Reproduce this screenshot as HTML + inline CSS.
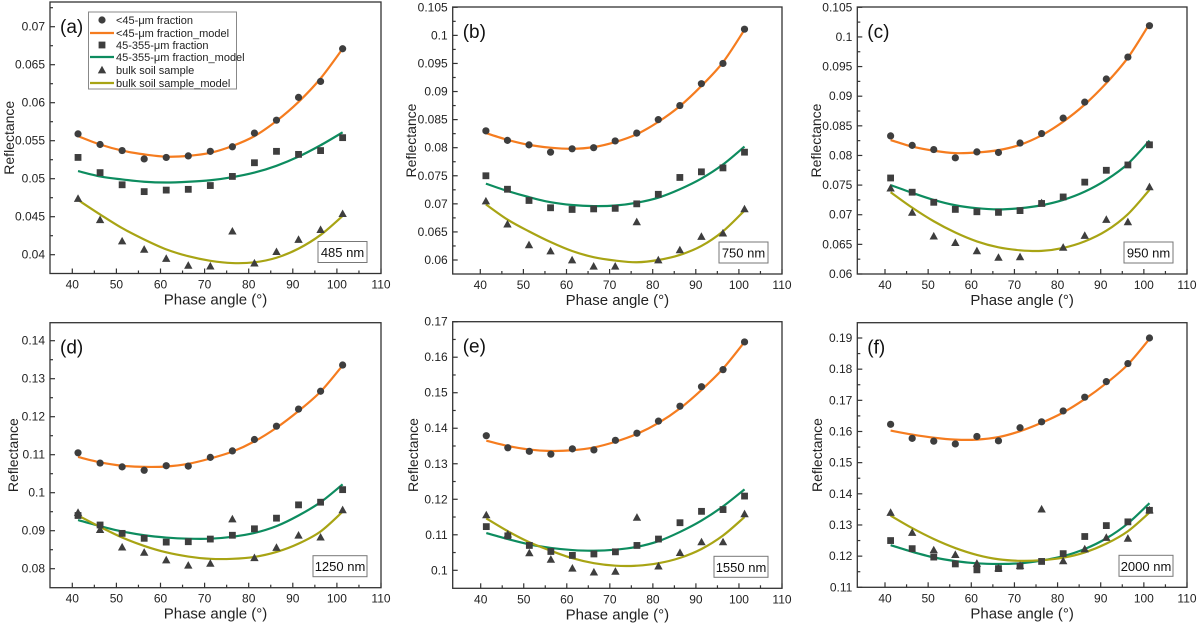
<!DOCTYPE html>
<html><head><meta charset="utf-8">
<style>
html,body{margin:0;padding:0;background:#fff;}
svg{display:block;font-family:"Liberation Sans",Arial,sans-serif;}
</style></head>
<body>
<svg id="chart" width="1200" height="628" viewBox="0 0 1200 628"></svg>
<script>
const phaseAngles = [41.3,46.3,51.3,56.3,61.3,66.3,71.3,76.3,81.3,86.3,91.3,96.3,101.3];
const xTicks = [40,50,60,70,80,90,100,110];
const seriesNames = ["<45-\u03bcm fraction","<45-\u03bcm fraction_model","45-355-\u03bcm fraction","45-355-\u03bcm fraction_model","bulk soil sample","bulk soil sample_model"];

const aFine = [0.0559,0.0545,0.0537,0.0526,0.0528,0.0530,0.0536,0.0542,0.0560,0.0577,0.0607,0.0628,0.0671];
const aFineModel = [0.0556,0.0545,0.0537,0.0532,0.0529,0.0530,0.0534,0.0543,0.0556,0.0576,0.0601,0.0632,0.0671];
const aMid = [0.0528,0.0508,0.0492,0.0483,0.0485,0.0486,0.0491,0.0503,0.0521,0.0536,0.0532,0.0537,0.0554];
const aMidModel = [0.0510,0.0503,0.0499,0.0496,0.0495,0.0496,0.0498,0.0502,0.0508,0.0517,0.0529,0.0544,0.0561];
const aBulk = [0.0474,0.0446,0.0418,0.0407,0.0395,0.0386,0.0385,0.0431,0.0389,0.0404,0.0420,0.0433,0.0454];
const aBulkModel = [0.0472,0.0453,0.0435,0.0420,0.0407,0.0398,0.0392,0.0389,0.0390,0.0396,0.0408,0.0426,0.0451];

const bFine = [0.0830,0.0813,0.0805,0.0792,0.0798,0.0800,0.0812,0.0826,0.0850,0.0875,0.0914,0.0950,0.1011];
const bFineModel = [0.0826,0.0814,0.0805,0.0800,0.0798,0.0801,0.0810,0.0824,0.0846,0.0874,0.0910,0.0952,0.1010];
const bMid = [0.0750,0.0726,0.0706,0.0693,0.0690,0.0691,0.0692,0.0700,0.0717,0.0747,0.0757,0.0764,0.0792];
const bMidModel = [0.0736,0.0723,0.0712,0.0703,0.0698,0.0696,0.0697,0.0702,0.0711,0.0726,0.0745,0.0770,0.0802];
const bBulk = [0.0705,0.0664,0.0627,0.0616,0.0600,0.0589,0.0589,0.0668,0.0600,0.0618,0.0642,0.0648,0.0691];
const bBulkModel = [0.0699,0.0672,0.0651,0.0632,0.0616,0.0605,0.0599,0.0596,0.0600,0.0609,0.0625,0.0651,0.0688];

const cFine = [0.0833,0.0817,0.0810,0.0796,0.0806,0.0805,0.0821,0.0837,0.0863,0.0890,0.0929,0.0966,0.1019];
const cFineModel = [0.0826,0.0815,0.0808,0.0804,0.0805,0.0809,0.0818,0.0834,0.0857,0.0886,0.0922,0.0965,0.1022];
const cMid = [0.0762,0.0738,0.0721,0.0709,0.0705,0.0704,0.0707,0.0719,0.0730,0.0755,0.0775,0.0784,0.0818];
const cMidModel = [0.0750,0.0737,0.0725,0.0716,0.0711,0.0709,0.0711,0.0716,0.0725,0.0739,0.0759,0.0786,0.0825];
const cBulk = [0.0745,0.0704,0.0664,0.0653,0.0639,0.0628,0.0629,0.0720,0.0645,0.0665,0.0692,0.0688,0.0747];
const cBulkModel = [0.0738,0.0712,0.0689,0.0670,0.0655,0.0645,0.0640,0.0639,0.0644,0.0655,0.0673,0.0701,0.0742];

const dFine = [0.1105,0.1078,0.1068,0.1059,0.1071,0.1070,0.1093,0.1110,0.1140,0.1175,0.1220,0.1267,0.1336];
const dFineModel = [0.1094,0.1080,0.1071,0.1068,0.1069,0.1076,0.1090,0.1108,0.1135,0.1171,0.1215,0.1266,0.1335];
const dMid = [0.0940,0.0915,0.0893,0.0880,0.0870,0.0871,0.0878,0.0888,0.0905,0.0933,0.0968,0.0975,0.1008];
const dMidModel = [0.0928,0.0912,0.0898,0.0888,0.0882,0.0879,0.0879,0.0884,0.0894,0.0912,0.0940,0.0975,0.1022];
const dBulk = [0.0948,0.0903,0.0857,0.0843,0.0823,0.0809,0.0814,0.0931,0.0829,0.0856,0.0888,0.0883,0.0955];
const dBulkModel = [0.0940,0.0910,0.0882,0.0860,0.0843,0.0832,0.0826,0.0826,0.0831,0.0844,0.0866,0.0898,0.0950];

const eFine = [0.1379,0.1345,0.1335,0.1327,0.1342,0.1339,0.1366,0.1386,0.1420,0.1462,0.1517,0.1565,0.1643];
const eFineModel = [0.1365,0.1350,0.1340,0.1336,0.1338,0.1346,0.1362,0.1384,0.1415,0.1456,0.1508,0.1568,0.1643];
const eMid = [0.1123,0.1097,0.1070,0.1053,0.1042,0.1046,0.1052,0.1070,0.1088,0.1134,0.1166,0.1171,0.1209];
const eMidModel = [0.1105,0.1088,0.1073,0.1063,0.1057,0.1055,0.1058,0.1066,0.1082,0.1108,0.1140,0.1180,0.1228];
const eBulk = [0.1156,0.1102,0.1049,0.1031,0.1006,0.0995,0.0997,0.1149,0.1012,0.1050,0.1080,0.1080,0.1159];
const eBulkModel = [0.1146,0.1110,0.1079,0.1055,0.1034,0.1020,0.1013,0.1013,0.1020,0.1035,0.1060,0.1098,0.1150];

const fFine = [0.1623,0.1578,0.1569,0.1560,0.1584,0.1570,0.1612,0.1631,0.1666,0.1710,0.1760,0.1818,0.1900];
const fFineModel = [0.1603,0.1590,0.1580,0.1574,0.1574,0.1582,0.1601,0.1628,0.1661,0.1704,0.1755,0.1815,0.1897];
const fMid = [0.1250,0.1224,0.1197,0.1175,0.1156,0.1160,0.1168,0.1183,0.1208,0.1263,0.1298,0.1310,0.1347];
const fMidModel = [0.1235,0.1214,0.1196,0.1184,0.1177,0.1175,0.1177,0.1186,0.1200,0.1223,0.1257,0.1305,0.1370];
const fBulk = [0.1340,0.1276,0.1220,0.1205,0.1177,0.1162,0.1170,0.1351,0.1185,0.1223,0.1260,0.1257,0.1348];
const fBulkModel = [0.1330,0.1290,0.1255,0.1226,0.1204,0.1190,0.1185,0.1187,0.1195,0.1212,0.1240,0.1280,0.1340];

const aTicks = [0.04,0.045,0.05,0.055,0.06,0.065,0.07];
const aTickLabels = ["0.04","0.045","0.05","0.055","0.06","0.065","0.07"];
const bTicks = [0.06,0.065,0.07,0.075,0.08,0.085,0.09,0.095,0.1,0.105];
const bTickLabels = ["0.06","0.065","0.07","0.075","0.08","0.085","0.09","0.095","0.1","0.105"];
const cTicks = bTicks;
const cTickLabels = bTickLabels;
const dTicks = [0.08,0.09,0.1,0.11,0.12,0.13,0.14];
const dTickLabels = ["0.08","0.09","0.1","0.11","0.12","0.13","0.14"];
const eTicks = [0.1,0.11,0.12,0.13,0.14,0.15,0.16,0.17];
const eTickLabels = ["0.1","0.11","0.12","0.13","0.14","0.15","0.16","0.17"];
const fTicks = [0.11,0.12,0.13,0.14,0.15,0.16,0.17,0.18,0.19];
const fTickLabels = ["0.11","0.12","0.13","0.14","0.15","0.16","0.17","0.18","0.19"];

const NS = "http://www.w3.org/2000/svg";
const svg = document.getElementById("chart");
function mk(tag, attrs, parent){
  const e = document.createElementNS(NS, tag);
  for (const k in attrs) e.setAttribute(k, attrs[k]);
  (parent||svg).appendChild(e);
  return e;
}
const ORANGE="#f57c1f", GREEN="#0d8c5f", OLIVE="#a8a414", GREY="#3e3e3e";

function smoothPath(pts){
  let d = "M"+pts[0][0].toFixed(2)+","+pts[0][1].toFixed(2);
  for (let i=0;i<pts.length-1;i++){
    const p0=pts[Math.max(0,i-1)], p1=pts[i], p2=pts[i+1], p3=pts[Math.min(pts.length-1,i+2)];
    const c1=[p1[0]+(p2[0]-p0[0])/6, p1[1]+(p2[1]-p0[1])/6];
    const c2=[p2[0]-(p3[0]-p1[0])/6, p2[1]-(p3[1]-p1[1])/6];
    d += " C"+c1[0].toFixed(2)+","+c1[1].toFixed(2)+" "+c2[0].toFixed(2)+","+c2[1].toFixed(2)+" "+p2[0].toFixed(2)+","+p2[1].toFixed(2);
  }
  return d;
}

function panel(cfg){
  const g = mk("g", {});
  
  
  const L=cfg.left, R=cfg.right, T=cfg.top, B=cfg.bottom;
  const xScale = v => cfg.x40 + (v-40)*(cfg.x110-cfg.x40)/70;
  const yScale = v => cfg.yA + (v-cfg.vA)*(cfg.yB-cfg.yA)/(cfg.vB-cfg.vA);
  xTicks.forEach((t,i)=>{
    const x = xScale(t);
    const tk = mk("line",{x1:x,x2:x,y1:B,y2:B-5,stroke:"#333","stroke-width":1.2},g);
    
    
    const lb = mk("text",{x:x,y:B+15,"text-anchor":"middle","font-size":12,fill:"#222"},g);
    lb.textContent = t;
    
    
    if (i<xTicks.length-1){
      const xm = xScale(t+5);
      const mt = mk("line",{x1:xm,x2:xm,y1:B,y2:B-3,stroke:"#333","stroke-width":1.2},g);
      
      
    }
  });
  const step = cfg.ticks[1]-cfg.ticks[0];
  cfg.ticks.forEach((t,i)=>{
    const y = yScale(t);
    const tk = mk("line",{x1:L,x2:L+5,y1:y,y2:y,stroke:"#333","stroke-width":1.2},g);
    
    
    const lb = mk("text",{x:L-5,y:y+4,"text-anchor":"end","font-size":12,fill:"#222"},g);
    lb.textContent = cfg.labels[i];
    
    
    [t-step/2, t+step/2].forEach(m=>{
      const ym = yScale(m);
      if (ym>T+1 && ym<B-1 && (i===0 || m>t)){
        const mt = mk("line",{x1:L,x2:L+3,y1:ym,y2:ym,stroke:"#333","stroke-width":1.2},g);
        
        
      }
    });
  });
  const xt = mk("text",{x:(L+R)/2,y:B+31,"text-anchor":"middle","font-size":15,fill:"#222"},g);
  xt.textContent = "Phase angle (\u00b0)";
  
  
  const yx = cfg.ytitleX, yy=(T+B)/2;
  const yt = mk("text",{x:yx,y:yy,"text-anchor":"middle","font-size":14,fill:"#222",transform:"rotate(-90 "+yx+" "+yy+")"},g);
  yt.textContent = "Reflectance";
  
  
  const lines = [[cfg.fineModel,ORANGE,"fine-fraction-model-line"],[cfg.midModel,GREEN,"coarse-fraction-model-line"],[cfg.bulkModel,OLIVE,"bulk-soil-model-line"]];
  lines.forEach(([arr,col,name])=>{
    const pts = arr.map((v,i)=>[xScale(phaseAngles[i]), yScale(v)]);
    const p = mk("path",{d:smoothPath(pts),fill:"none",stroke:col,"stroke-width":2.2},g);
    
    
  });
  cfg.fine.forEach((v,i)=>{
    const c = mk("circle",{cx:xScale(phaseAngles[i]),cy:yScale(v),r:3.6,fill:GREY},g);
    
    
  });
  cfg.mid.forEach((v,i)=>{
    const x=xScale(phaseAngles[i]), y=yScale(v);
    const s = mk("rect",{x:x-3.4,y:y-3.4,width:6.8,height:6.8,fill:GREY},g);
    
    
  });
  cfg.bulk.forEach((v,i)=>{
    const x=xScale(phaseAngles[i]), y=yScale(v);
    const tr = mk("polygon",{points:(x-4.2)+","+(y+3.4)+" "+(x+4.2)+","+(y+3.4)+" "+x+","+(y-4.2),fill:GREY},g);
    
    
  });
  const fr = mk("rect",{x:L,y:T,width:R-L,height:B-T,fill:"none",stroke:"#333","stroke-width":1.3},g);
  
  
  const pl = mk("text",{x:L+10,y:T+31,"font-size":19,fill:"#111"},g);
  pl.textContent = "("+cfg.id+")";
  
  
  const bw=cfg.wl.length>6?54:49, bh=21, bx=R-14-bw, by=B-11-bh;
  const wb = mk("rect",{x:bx,y:by,width:bw,height:bh,fill:"#fff",stroke:"#777","stroke-width":1},g);
  
  
  const wt = mk("text",{x:bx+bw/2,y:by+15.5,"text-anchor":"middle","font-size":13,fill:"#111"},g);
  wt.textContent = cfg.wl;
  
  
  return g;
}

panel({id:"a",left:50,right:381,top:2,bottom:273.5,x40:72.3,x110:381,vA:0.07,yA:26.7,vB:0.04,yB:254.7,ticks:aTicks,labels:aTickLabels,ytitleX:14,wl:"485 nm",
  fine:aFine,fineModel:aFineModel,mid:aMid,midModel:aMidModel,bulk:aBulk,bulkModel:aBulkModel});
panel({id:"b",left:452.7,right:782,top:7,bottom:274,x40:480.3,x110:782,vA:0.105,yA:7.3,vB:0.06,yB:260,ticks:bTicks,labels:bTickLabels,ytitleX:416,wl:"750 nm",
  fine:bFine,fineModel:bFineModel,mid:bMid,midModel:bMidModel,bulk:bBulk,bulkModel:bBulkModel});
panel({id:"c",left:857.3,right:1187,top:7,bottom:274,x40:885,x110:1187,vA:0.105,yA:7.3,vB:0.06,yB:274,ticks:cTicks,labels:cTickLabels,ytitleX:821,wl:"950 nm",
  fine:cFine,fineModel:cFineModel,mid:cMid,midModel:cMidModel,bulk:cBulk,bulkModel:cBulkModel});
panel({id:"d",left:50,right:381,top:322.7,bottom:587.7,x40:72.3,x110:381,vA:0.14,yA:340.7,vB:0.08,yB:568.7,ticks:dTicks,labels:dTickLabels,ytitleX:18,wl:"1250 nm",
  fine:dFine,fineModel:dFineModel,mid:dMid,midModel:dMidModel,bulk:dBulk,bulkModel:dBulkModel});
panel({id:"e",left:452.7,right:782,top:321.7,bottom:588.3,x40:480.7,x110:782,vA:0.17,yA:321.7,vB:0.10,yB:570.3,ticks:eTicks,labels:eTickLabels,ytitleX:418,wl:"1550 nm",
  fine:eFine,fineModel:eFineModel,mid:eMid,midModel:eMidModel,bulk:eBulk,bulkModel:eBulkModel});
panel({id:"f",left:857.3,right:1187,top:322.7,bottom:587.3,x40:885,x110:1187,vA:0.19,yA:338,vB:0.11,yB:587.3,ticks:fTicks,labels:fTickLabels,ytitleX:822,wl:"2000 nm",
  fine:fFine,fineModel:fFineModel,mid:fMid,midModel:fMidModel,bulk:fBulk,bulkModel:fBulkModel});

const lg = mk("g",{});


const lbx = mk("rect",{x:88.5,y:12,width:148,height:77,fill:"#fff",stroke:"#888","stroke-width":1},lg);


const legY = [20,33,45,57,70,83];
seriesNames.forEach((name,i)=>{
  const y = legY[i];
  let m;
  if (i===1||i===3||i===5){
    const col = i===1?ORANGE:(i===3?GREEN:OLIVE);
    m = mk("line",{x1:90,x2:114,y1:y,y2:y,stroke:col,"stroke-width":2.2},lg);
  } else if (i===0){
    m = mk("circle",{cx:102,cy:y,r:3.6,fill:GREY},lg);
  } else if (i===2){
    m = mk("rect",{x:98.6,y:y-3.4,width:6.8,height:6.8,fill:GREY},lg);
  } else {
    m = mk("polygon",{points:"97.8,"+(y+3.4)+" 106.2,"+(y+3.4)+" 102,"+(y-4.2),fill:GREY},lg);
  }
  
  
  const t = mk("text",{x:116,y:y+4,"font-size":11,fill:"#222"},lg);
  t.textContent = name;
  
  
});
</script>
</body></html>
